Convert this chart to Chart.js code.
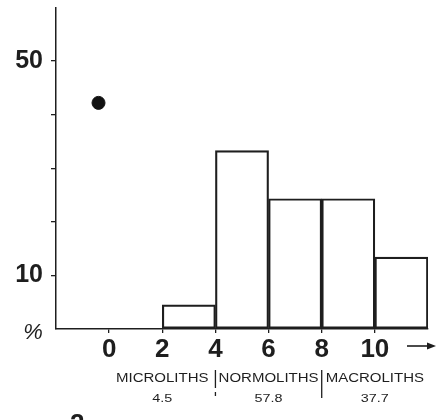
<!DOCTYPE html>
<html>
<head>
<meta charset="utf-8">
<script src="https://cdn.jsdelivr.net/npm/chart.js@4.4.0/dist/chart.umd.min.js"></script>
<style>
  html, body { margin: 0; padding: 0; background: #fff; }
  #wrap { width: 448px; height: 420px; }
</style>
</head>
<body>
<div id="wrap"><canvas id="histo" width="448" height="420"></canvas></div>
<script>
// bins (size classes) and their percentages
const binEdges = [2, 4, 6, 8, 10, 12];
const binPercents = [4.5, 33.3, 24.3, 24.3, 13.4];
// the single point left of the histogram
const dotX = [-0.4];
const dotY = [42.2];
// groups printed under the axis
const groupNames = ['MICROLITHS', 'NORMOLITHS', 'MACROLITHS'];
const groupPercents = ['4.5', '57.8', '37.7'];
const groupRanges = [[0, 4], [4, 8], [8, 12]];
// tick labels that are actually printed
const yLabels = [10, 50];
const xLabels = [0, 2, 4, 6, 8, 10];

const ink = '#1e1e1e';

const bars = binPercents.map((v, i) => ({ x: (binEdges[i] + binEdges[i + 1]) / 2, y: v }));
const dots = dotX.map((x, i) => ({ x: x, y: dotY[i] }));

// texts under the axis, the arrow and the % sign
const extras = {
    id: 'extras',
    afterDraw(chart) {
        const c = chart.ctx;
        const xs = chart.scales.x;
        c.save();
        c.fillStyle = ink;
        c.strokeStyle = ink;
        c.textAlign = 'center';
        c.textBaseline = 'middle';

        groupNames.forEach((name, i) => {
            const r = groupRanges[i];
            const cx = xs.getPixelForValue((r[0] + r[1]) / 2);
            c.save();
            c.translate(cx, 379);
            c.scale(1.25, 1);
            c.font = '12px "Liberation Sans", Arial, sans-serif';
            c.fillText(name, 0, 0);
            c.font = '11.5px "Liberation Sans", Arial, sans-serif';
            c.fillText(groupPercents[i], 0, 20);
            c.restore();
        });

        // separators between the groups
        c.lineWidth = 1.3;
        c.beginPath();
        const s1 = xs.getPixelForValue(groupRanges[0][1]);
        c.moveTo(s1, 370); c.lineTo(s1, 388);
        c.moveTo(s1, 392); c.lineTo(s1, 396);
        const s2 = xs.getPixelForValue(groupRanges[1][1]);
        c.moveTo(s2, 370); c.lineTo(s2, 398);
        c.stroke();

        // arrow after the last x label
        c.lineWidth = 1.6;
        c.beginPath();
        c.moveTo(407, 346); c.lineTo(430, 346);
        c.stroke();
        c.beginPath();
        c.moveTo(436, 346); c.lineTo(427, 342.5); c.lineTo(427, 349.5);
        c.closePath();
        c.fill();

        // % sign
        c.font = 'italic 22px "Liberation Sans", Arial, sans-serif';
        c.fillText('%', 33, 333);

        // figure number, cut by the bottom edge
        c.textAlign = 'left';
        c.textBaseline = 'top';
        c.font = 'bold 26px "Liberation Sans", Arial, sans-serif';
        c.fillText('2', 70, 412);
        c.restore();
    }
};

new Chart(document.getElementById('histo').getContext('2d'), {
    type: 'bar',
    data: {
        datasets: [{
            type: 'bar',
            data: bars,
            backgroundColor: 'rgba(0,0,0,0)',
            borderColor: ink,
            borderWidth: 1.5,
            borderSkipped: false,
            barPercentage: 1,
            categoryPercentage: 1
        }, {
            type: 'scatter',
            data: dots,
            backgroundColor: '#111',
            borderColor: '#111',
            pointRadius: 6.5,
            pointHoverRadius: 6.5
        }]
    },
    options: {
        responsive: false,
        animation: false,
        events: [],
        layout: {
            padding: { left: 0, right: 20, top: 7, bottom: 61 }
        },
        plugins: {
            legend: { display: false },
            tooltip: { enabled: false }
        },
        scales: {
            x: {
                type: 'linear',
                min: -2,
                max: 12,
                offset: false,
                border: { display: true, color: ink, width: 1.5 },
                grid: {
                    offset: false,
                    drawOnChartArea: false,
                    drawTicks: true,
                    tickLength: 4,
                    lineWidth: 1.3,
                    color: (ctx) => (ctx.tick && xLabels.includes(ctx.tick.value)) ? ink : 'rgba(0,0,0,0)'
                },
                ticks: {
                    stepSize: 2,
                    autoSkip: false,
                    maxRotation: 0,
                    padding: 1,
                    color: ink,
                    font: { family: '"Liberation Sans", Arial, sans-serif', size: 26, weight: 'bold' },
                    callback: (v) => xLabels.includes(v) ? String(v) : ''
                },
                afterFit(scale) {
                    scale.height = 30;
                    scale.paddingLeft = 0;
                    scale.paddingRight = 0;
                }
            },
            y: {
                min: 0,
                max: 60,
                border: { display: true, color: ink, width: 1.5 },
                grid: {
                    drawOnChartArea: false,
                    drawTicks: true,
                    tickLength: 5,
                    lineWidth: 1.3,
                    color: (ctx) => (ctx.tick && ctx.tick.value > 0 && ctx.tick.value < 60) ? ink : 'rgba(0,0,0,0)'
                },
                ticks: {
                    stepSize: 10,
                    padding: 8,
                    color: ink,
                    font: { family: '"Liberation Sans", Arial, sans-serif', size: 25, weight: 'bold' },
                    callback: (v) => yLabels.includes(v) ? String(v) : ''
                },
                afterFit(scale) {
                    scale.width = 56;
                    scale.paddingTop = 0;
                    scale.paddingBottom = 0;
                }
            }
        }
    },
    plugins: [extras]
});
</script>
</body>
</html>
